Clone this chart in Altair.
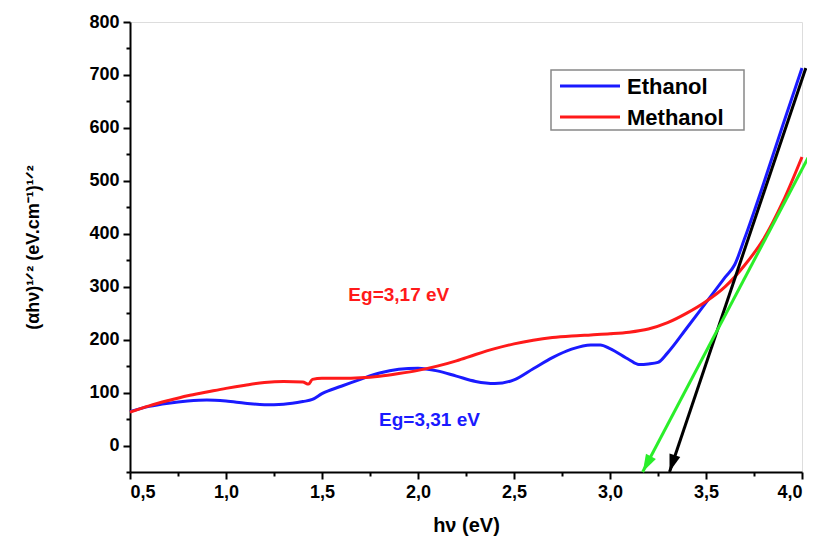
import altair as alt
import pandas as pd

# Ethanol (blue)
eth_x = [0.5, 0.6, 0.7, 0.8, 0.9, 1.0, 1.1, 1.2, 1.3, 1.4, 1.45, 1.5, 1.6, 1.7, 1.8, 1.9, 2.0, 2.1, 2.2,
         2.3, 2.4, 2.5, 2.6, 2.7, 2.8, 2.9, 2.95, 3.0, 3.1, 3.15, 3.2, 3.25, 3.3, 3.4, 3.5, 3.6, 3.65,
         3.7, 3.8, 3.9, 4.0]
eth_y = [64, 74, 80, 84, 86, 84, 80, 77, 78, 83, 87, 98, 112, 125, 137, 144, 146, 141, 131,
         121, 117, 124, 145, 166, 182, 190, 190, 183, 162, 153, 154, 157, 175, 222, 270, 318, 342,
         390, 495, 605, 713]

# Methanol (red)
met_x = [0.5, 0.6, 0.7, 0.8, 0.9, 1.0, 1.1, 1.2, 1.3, 1.4, 1.43, 1.45, 1.5, 1.6, 1.7, 1.8, 1.9, 2.0,
         2.1, 2.2, 2.3, 2.4, 2.5, 2.6, 2.7, 2.8, 2.9, 3.0, 3.1, 3.2, 3.3, 3.4, 3.5, 3.6, 3.7, 3.8,
         3.9, 4.0]
met_y = [63, 75, 85, 94, 101, 108, 114, 119, 121, 120, 116, 125, 127, 127, 128, 131, 136, 142,
         150, 160, 172, 183, 192, 199, 204, 207, 209, 211, 214, 220, 232, 250, 272, 300, 340, 390,
         460, 545]

series_names = ["Ethanol", "Methanol"]

# Tangent arrows (start -> tip on the x axis): black for Ethanol, green for Methanol
black_arrow_x = [4.02, 3.31]
black_arrow_y = [713, -50]
black_head = [3.324, -34]
green_arrow_x = [4.08, 3.17]
green_arrow_y = [577, -50]
green_head = [3.192, -35]

# Annotations
ann_text = ["Eg=3,17 eV", "Eg=3,31 eV"]
ann_x = [1.9, 2.06]
ann_y = [285, 49]

x_ticks = [0.5 + 0.25 * i for i in range(15)]
y_ticks = [-50 + 50 * i for i in range(18)]

FONT = "Liberation Sans"
BLUE = "#1a1aff"
RED = "#ff1a1a"
GREEN = "#2aee2a"
series_colors = [BLUE, RED]
ann_color = [RED, BLUE]

df = pd.concat([
    pd.DataFrame({"x": eth_x, "y": eth_y, "series": series_names[0]}),
    pd.DataFrame({"x": met_x, "y": met_y, "series": series_names[1]}),
])

xscale = alt.Scale(domain=[0.5, 4.0], nice=False, zero=False)
yscale = alt.Scale(domain=[-50, 800], nice=False, zero=False)

x_major = "abs(datum.value*2 - round(datum.value*2)) < 0.01"
y_major = "abs(datum.value/100 - round(datum.value/100)) < 0.01"

xaxis = alt.Axis(
    title="hν (eV)", values=x_ticks, grid=False,
    labelExpr=x_major + " ? replace(format(datum.value, '.1f'), '.', ',') : ''",
    tickSize={"condition": {"test": x_major, "value": 7}, "value": 4},
    labelFontSize=18, labelFont=FONT, labelFontWeight="bold", labelColor="black", labelPadding=4,
    labelOverlap=False, labelFlush=4,
    titleFontSize=20, titleFont=FONT, titleFontWeight="bold", titleColor="black", titlePadding=14,
    domainColor="black", domainWidth=2, tickColor="black", tickWidth=2,
)
yaxis = alt.Axis(
    title="(αhν)¹ᐟ² (eV.cm⁻¹)¹ᐟ²", values=y_ticks, grid=False,
    labelExpr=y_major + " ? datum.label : ''",
    tickSize={"condition": {"test": y_major, "value": 7}, "value": 4},
    labelFontSize=18, labelFont=FONT, labelFontWeight="bold", labelColor="black", labelPadding=4,
    labelOverlap=False, labelFlush=False,
    titleFontSize=18, titleFont=FONT, titleFontWeight="bold", titleColor="black", titlePadding=46,
    domainColor="black", domainWidth=2, tickColor="black", tickWidth=2,
)

lines = alt.Chart(df).mark_line(strokeWidth=3, interpolate="monotone").encode(
    x=alt.X("x:Q", scale=xscale, axis=xaxis),
    y=alt.Y("y:Q", scale=yscale, axis=yaxis),
    color=alt.Color("series:N", scale=alt.Scale(domain=series_names, range=series_colors), legend=None),
    order="x:Q",
)

def arrow(xs, ys, head, angle, color):
    seg = pd.DataFrame({"ax0": [xs[0]], "ay0": [ys[0]], "ax1": [xs[1]], "ay1": [ys[1]]})
    rule = alt.Chart(seg).mark_rule(strokeWidth=3, color=color).encode(
        x=alt.X("ax0:Q", scale=xscale, axis=xaxis), y=alt.Y("ay0:Q", scale=yscale, axis=yaxis),
        x2="ax1:Q", y2="ay1:Q"
    )
    hd = pd.DataFrame({"hx": [head[0]], "hy": [head[1]]})
    tip = alt.Chart(hd).mark_point(
        shape="M-0.65,-1L0.65,-1L0,1Z", size=300, filled=True, opacity=1, angle=angle,
        color=color, strokeWidth=0,
    ).encode(x=alt.X("hx:Q", scale=xscale, axis=xaxis), y=alt.Y("hy:Q", scale=yscale, axis=yaxis))
    return rule + tip

black = arrow(black_arrow_x, black_arrow_y, black_head, 18, "black")
green = arrow(green_arrow_x, green_arrow_y, green_head, 28, GREEN)

ann_df = pd.DataFrame({"t": ann_text, "x": ann_x, "y": ann_y, "c": ann_color})
ann = alt.Chart(ann_df).mark_text(fontSize=19, font=FONT, fontWeight="bold").encode(
    x=alt.X("x:Q", scale=xscale, axis=xaxis), y=alt.Y("y:Q", scale=yscale, axis=yaxis),
    text="t:N", color=alt.Color("c:N", scale=None),
)

# Legend box drawn in pixel space (top-right of the plot)
one = alt.Data(values=[{"k": 1}])
leg_box = alt.Chart(one).mark_rect(fill="white", stroke="#888888", strokeWidth=1.5).encode(
    x=alt.value(421), x2=alt.value(614), y=alt.value(48), y2=alt.value(108)
)
leg_layers = [leg_box]
for i, (name, col) in enumerate(zip(series_names, series_colors)):
    ry = 64 + 31 * i
    leg_layers.append(
        alt.Chart(one).mark_rule(strokeWidth=3, color=col).encode(
            x=alt.value(430), x2=alt.value(490), y=alt.value(ry)
        )
    )
    leg_layers.append(
        alt.Chart(one).mark_text(
            text=name, align="left", baseline="middle", fontSize=22, font=FONT,
            fontWeight="bold", color="black"
        ).encode(x=alt.value(497), y=alt.value(ry + 1))
    )

chart = alt.layer(lines, black, green, ann, *leg_layers).properties(
    width=672, height=450,
    autosize=alt.AutoSizeParams(type="none"),
    padding={"left": 122, "top": 14, "right": 5, "bottom": 65},
).configure_view(stroke="black", strokeWidth=2).configure(background="white")

chart.save("out.html", embed_options={"renderer": "svg", "actions": False})
